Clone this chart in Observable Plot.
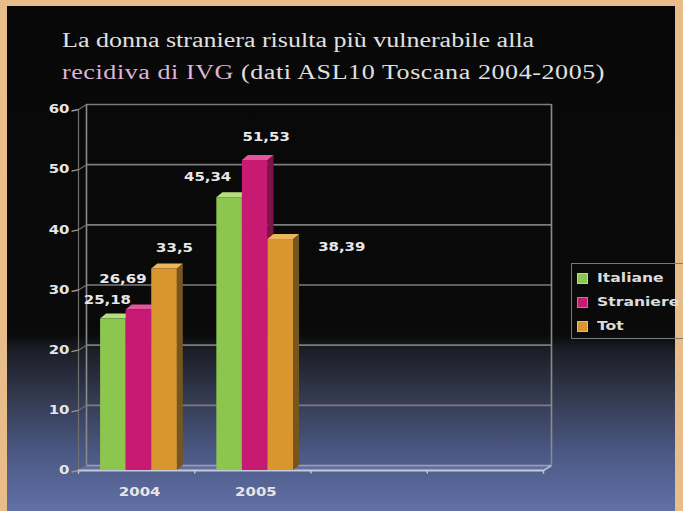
<!DOCTYPE html>
<html>
<head>
<meta charset="utf-8">
<script src="https://cdn.jsdelivr.net/npm/d3@7"></script>
<script src="https://cdn.jsdelivr.net/npm/@observablehq/plot@0.6"></script>
<style>
  html, body { margin: 0; padding: 0; }
  body { width: 683px; height: 511px; position: relative; overflow: hidden; background: #e8bd8a; }
  #bg { position: absolute; left: 7px; top: 6px; width: 668px; height: 505px;
        background: linear-gradient(to bottom, #080808 0px, #0a0a0a 328px, #1c1e26 344px, #343b52 394px, #4c5a86 450px, #6170a6 505px); }
  #title { position: absolute; left: 62px; top: 24px; font-family: "Liberation Serif", serif; font-size: 20px;
           line-height: 32px; color: #e0e0e0; transform: scaleX(1.3); transform-origin: left top; white-space: nowrap; }
  #title .l2 { letter-spacing: 0.45px; }
  #title .hl { color: #dcb6d6; }
  #chart { position: absolute; left: 0; top: 0; }
  #legend { position: absolute; left: 571px; top: 263px; width: 130px; height: 76px; border: 1.5px solid #7a7a7a; box-sizing: border-box; }
  .item { position: absolute; left: 5px; height: 14px; }
  .sw { position: absolute; left: 0; top: 1px; width: 11px; height: 11px; box-sizing: border-box; border: 1px solid rgba(255,255,255,0.35); }
  .lt { position: absolute; left: 20px; top: -1px; font-family: "DejaVu Sans", sans-serif; font-weight: bold; font-size: 12px;
        color: #dcdcdc; transform: scaleX(1.3); transform-origin: left top; white-space: nowrap; }
</style>
</head>
<body>
<div id="bg"></div>
<div id="title">La donna straniera risulta più vulnerabile alla<br><span class="l2"><span class="hl">recidiva di IVG</span> (dati ASL10 Toscana 2004-2005)</span></div>
<div id="chart"></div>
<div id="legend"></div>
<script>
// ---- data ----
const years = ["2004", "2005"];
const slotCount = 4; // category slots along the x axis (two are empty)
const series = ["Italiane", "Straniere", "Tot"];
const italiane = [25.18, 45.34];
const straniere = [26.69, 51.53];
const tot = [33.5, 38.39];
const yTicks = [0, 10, 20, 30, 40, 50, 60];

// ---- styles ----
const frontColors = ["#8cc64e", "#c71a72", "#d9962f"];
const topColors   = ["#b4e07e", "#e4559c", "#ebb75c"];
const sideColors  = ["#5b8a2c", "#7c1447", "#76561f"];
// per-label pixel offsets (as placed in the original)
const labelOffsets = [
  [[-6, -19], [-16, -31], [10, -21]],
  [[-22, -20], [11, -23], [61, 8]]
];

const W = 683, H = 511, mL = 78, mR = 140, mT = 109, mB = 41;
const pxX = (W - mL - mR) / slotCount;
const pxY = (H - mT - mB) / 60;
const dXw = 8 / pxX, dYw = 5 / pxY;   // back wall depth
const dXb = 6 / pxX, dYb = 5 / pxY;   // bar depth
const barStart = 0.19, barW = 0.22;

const values = [italiane, straniere, tot];
const rows = [];
years.forEach((year, i) => {
  series.forEach((s, k) => {
    const x1 = i + barStart + k * barW;
    rows.push({ id: `${i}-${k}`, i, k, year, series: s, value: values[k][i], x1, x2: x1 + barW });
  });
});

const sides = rows.flatMap(d => [
  { id: d.id, k: d.k, x: d.x2, y1: 0, y2: d.value },
  { id: d.id, k: d.k, x: d.x2 + dXb, y1: dYb, y2: d.value + dYb }
]);
const tops = rows.flatMap(d => [
  { id: d.id, k: d.k, y: d.value, x1: d.x1, x2: d.x2 },
  { id: d.id, k: d.k, y: d.value + dYb, x1: d.x1 + dXb, x2: d.x2 + dXb }
]);
const floor = [
  { y: 0, x1: 0, x2: slotCount },
  { y: dYw, x1: dXw, x2: slotCount + dXw }
];
const gridC = "#7c7c7c";

const labelMarks = rows.map(d => Plot.text([d], {
  x: r => (r.x1 + r.x2) / 2, y: "value",
  text: r => String(r.value).replace(".", ","),
  dx: labelOffsets[d.i][d.k][0], dy: labelOffsets[d.i][d.k][1],
  fill: "#e8e8e8", fontSize: 11.5, fontWeight: "bold"
}));

const svg = Plot.plot({
  width: W, height: H,
  marginLeft: mL, marginRight: mR, marginTop: mT, marginBottom: mB,
  x: { domain: [0, slotCount], axis: null },
  y: { domain: [0, 60], axis: null },
  color: { type: "identity" },
  style: { background: "none", fontFamily: "DejaVu Sans, sans-serif", overflow: "visible" },
  marks: [
    // floor
    Plot.areaX(floor, { y: "y", x1: "x1", x2: "x2", fill: "#9aa3c8", fillOpacity: 0.28 }),
    // back wall gridlines
    Plot.ruleY(yTicks.filter(v => v > 0), { y: v => v + dYw, x1: () => dXw, x2: () => slotCount + dXw, stroke: gridC, strokeWidth: 1.6 }),
    Plot.ruleY([0], { y: () => dYw, x1: () => dXw, x2: () => slotCount + dXw, stroke: "#9aa0b8", strokeWidth: 1.4 }),
    // back wall verticals
    Plot.ruleX([dXw, slotCount + dXw], { x: d => d, y1: () => dYw, y2: () => 60 + dYw, stroke: "#8a8a8a", strokeWidth: 1.6 }),
    // left wall: front axis line and connectors
    Plot.ruleX([0], { x: d => d, y1: () => 0, y2: () => 60, stroke: "#6e6e6e", strokeWidth: 1.2 }),
    Plot.link(yTicks, { x1: () => 0, y1: v => v, x2: () => dXw, y2: v => v + dYw, stroke: "#6e6e6e", strokeWidth: 1.2 }),
    // front floor edge and right connector
    Plot.link([0], { x1: () => slotCount, y1: () => 0, x2: () => slotCount + dXw, y2: () => dYw, stroke: "#b8bdd6", strokeWidth: 1.6 }),
    Plot.ruleY([0], { y: d => d, x1: () => 0, x2: () => slotCount, stroke: "#c4c9de", strokeWidth: 2 }),
    // x ticks
    Plot.ruleX(d3.range(slotCount + 1), { x: d => d, y1: () => 0, y2: () => -0.6, stroke: "#c4c9de", strokeWidth: 1.4 }),
    // y ticks
    Plot.link(yTicks, { x1: () => 0, x2: () => -7 / pxX, y1: v => v, y2: v => v - 0.25, stroke: "#9a9a9a", strokeWidth: 1.3 }),
    // bars: sides, tops, fronts
    Plot.areaY(sides, { x: "x", y1: "y1", y2: "y2", z: "id", fill: d => sideColors[d.k] }),
    Plot.areaX(tops, { y: "y", x1: "x1", x2: "x2", z: "id", fill: d => topColors[d.k] }),
    Plot.rect(rows, { x1: "x1", x2: "x2", y1: () => 0, y2: "value", fill: d => frontColors[d.k] }),
    // y tick labels
    Plot.text(yTicks, { x: () => 0, y: v => v, text: v => String(v), dx: -9, textAnchor: "end", fill: "#e6e6e6", fontSize: 11.5, fontWeight: "bold" }),
    // x category labels
    Plot.text(years, { x: (d, i) => i + 0.5, y: () => 0, text: d => d, dx: 3, dy: 22, fill: "#e6e6e6", fontSize: 11.5, fontWeight: "bold" }),
    ...labelMarks
  ]
});

document.getElementById("chart").appendChild(svg);

// widen chart text horizontally (like the original slide), about each text's anchor point
d3.select(svg).selectAll("text").each(function () {
  const b = this.getBBox();
  const anchor = getComputedStyle(this).textAnchor || this.getAttribute("text-anchor") || "start";
  const ax = anchor === "middle" ? b.x + b.width / 2 : anchor === "end" ? b.x + b.width : b.x;
  const ay = b.y + b.height / 2;
  const t = this.getAttribute("transform") || "";
  this.setAttribute("transform", `${t} translate(${ax},${ay}) scale(1.3,1) translate(${-ax},${-ay})`);
});

// legend
const legend = document.getElementById("legend");
series.forEach((s, k) => {
  const item = document.createElement("div");
  item.className = "item";
  item.style.top = (8 + k * 24) + "px";
  item.innerHTML = `<div class="sw" style="background:${frontColors[k]}"></div><div class="lt">${s}</div>`;
  legend.appendChild(item);
});
</script>
</body>
</html>
